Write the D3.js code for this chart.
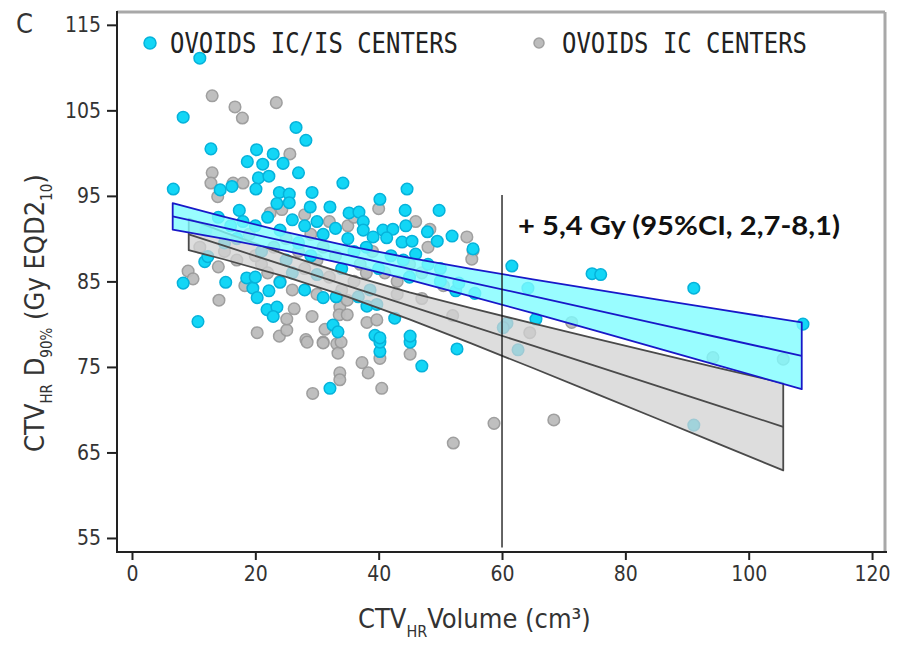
<!DOCTYPE html>
<html><head><meta charset="utf-8">
<script src="https://cdn.jsdelivr.net/npm/d3@7"></script>
<style>body{margin:0;background:#fff;}svg{display:block;}</style>
</head><body>
<svg id="chart" width="898" height="645"></svg>
<script>
// ---- data ----
const xTicks = [0, 20, 40, 60, 80, 100, 120];
const yTicks = [55, 65, 75, 85, 95, 105, 115];
const seriesNames = ["OVOIDS IC/IS CENTERS", "OVOIDS IC CENTERS"];
const annotation = "+ 5,4 Gy (95%CI, 2,7-8,1)";
const refX = 60;

// OVOIDS IC/IS CENTERS (volume cm3, D90% Gy)
const bluePoints = [
[11.0,111.1],[8.3,104.2],[12.8,100.5],[26.6,103.0],[28.2,101.5],[20.2,100.4],[18.7,99.0],[21.2,98.7],[22.9,99.9],[24.5,98.8],
[27.0,97.7],[20.5,97.1],[22.2,97.3],[20.1,95.8],[14.3,95.7],[16.2,96.1],[6.7,95.8],[23.9,95.4],[25.5,95.2],[29.2,95.4],
[34.2,96.5],[40.2,94.6],[44.6,95.8],[44.3,93.3],[49.8,93.3],[23.5,94.1],[25.5,94.2],[28.9,93.7],[32.1,93.7],[17.4,93.3],
[35.2,93.0],[36.8,93.1],[37.5,92.0],[44.4,91.5],[40.7,91.0],[42.3,91.1],[51.9,90.3],[49.5,89.7],[55.3,88.8],[43.8,89.6],
[45.4,89.7],[41.3,90.1],[39.1,90.2],[37.5,91.0],[47.9,90.8],
[61.6,86.8],[74.6,85.9],[76.0,85.8],[91.1,84.2],[108.8,80.0],[64.2,84.2],[52.5,83.9],[55.6,83.6],[65.5,80.6],[60.8,80.1],
[60.2,79.6],[62.6,77.0],[52.7,77.1],[91.1,68.2],
[40.2,76.8],[40.2,77.9],[45.1,77.9],[47.0,75.1],[32.1,72.5],[8.3,84.8],[10.7,80.3],[11.8,87.3],[12.3,87.9],[15.2,84.9],
[19.6,84.2],[22.2,83.9],[20.3,83.1],[21.9,81.7],[23.5,82.0],[22.9,80.9],[31.0,83.1],[33.1,83.2],[32.6,79.9],[33.4,79.1],
[38.1,82.1],[39.4,78.7],[40.2,78.4],[42.6,80.7],[45.1,78.6],[18.6,85.4],[20.0,85.5],[24.0,84.9],[36.7,83.2],[39.7,82.3],
[38.6,84.0],
[18.0,92.0],[20.0,91.5],[22.0,92.5],[24.0,91.0],[26.0,92.2],[28.0,91.5],[30.0,92.0],[31.0,90.5],[33.0,91.2],[35.0,90.0],
[36.0,88.5],[38.0,89.0],[42.0,88.0],[44.0,87.5],[46.0,88.2],[48.0,87.0],[50.0,86.5],[27.0,89.5],[29.0,88.0],[25.0,87.5],
[21.0,88.5],[17.0,90.0],[15.0,89.5],[34.0,86.5],[30.0,85.8],[26.0,86.0],[40.0,86.5],[45.0,85.5],[50.0,85.0],[53.0,84.8],
[28.0,84.0],[16.0,91.5],[14.0,92.5],[12.0,91.0]
];

// OVOIDS IC CENTERS
const grayPoints = [
[13.0,106.7],[16.7,105.4],[17.9,104.1],[23.4,105.9],[25.6,99.9],[13.0,97.7],[12.8,96.5],[16.4,96.5],[18.0,96.5],[13.9,94.9],
[22.4,93.0],[24.3,93.4],
[9.1,86.2],[9.9,85.3],[14.0,86.7],[14.1,82.8],[18.3,84.5],[20.3,79.0],[23.9,78.6],[25.1,79.3],[25.1,80.6],[26.3,81.8],
[28.2,78.2],[29.2,80.9],[31.0,77.9],[31.3,79.4],[33.2,77.7],[33.4,76.6],[33.7,82.0],[33.6,81.1],[34.9,81.1],[37.3,75.5],
[38.3,74.3],[33.7,74.3],[33.7,73.5],[29.3,71.9],[40.5,72.5],[40.2,76.0],[45.1,76.5],[38.1,80.2],[39.7,80.5],[34.9,82.8],
[28.4,77.9],[31.0,77.8],[33.9,77.9],
[48.3,91.1],[54.3,90.2],[55.3,88.6],[55.1,87.6],[64.5,79.0],[71.3,80.2],[94.2,76.1],[105.6,75.9],[58.7,68.4],[68.4,68.8],
[52.1,66.1],[50.5,84.5],[47.0,83.0],[43.0,83.5],[52.0,81.0],
[19.0,90.5],[21.0,87.0],[23.0,89.0],[25.0,90.0],[27.0,88.5],[29.0,90.5],[31.0,89.0],[33.0,88.0],[35.0,91.5],[37.0,87.0],
[39.0,88.5],[41.0,86.0],[43.0,85.0],[45.0,87.0],[47.0,86.0],[22.0,86.0],[24.0,85.0],[26.0,84.0],[28.0,86.5],[30.0,87.5],
[32.0,85.5],[36.0,85.0],[38.0,86.0],[20.0,88.0],[17.0,87.5],[15.0,88.5],[11.0,89.0],[30.0,83.5],[34.0,84.0],[32.0,92.0],
[36.0,92.5],[28.0,92.8],[40.0,93.5],[46.0,92.0],[48.0,89.0]
];

// regression fits with 95% CI: [x, lower, fit, upper]
const blueFit = [
[6.6, 91.05, 92.60, 94.15],[15, 89.97, 91.26, 92.55],[25, 88.56, 89.66, 90.76],[35, 86.96, 88.06, 89.16],
[45, 85.17, 86.46, 87.76],[55, 83.26, 84.87, 86.47],[65, 81.28, 83.27, 85.25],[75, 79.27, 81.67, 84.07],
[85, 77.24, 80.07, 82.90],[95, 75.19, 78.47, 81.75],[108.6, 72.40, 76.30, 80.20]
];
const grayFit = [
[9.2, 88.65, 90.50, 92.35],[15, 87.56, 89.15, 90.74],[25, 85.52, 86.81, 88.11],[35, 83.19, 84.48, 85.78],
[45, 80.55, 82.14, 83.73],[55, 77.75, 79.81, 81.87],[65, 74.87, 77.48, 80.09],[75, 71.94, 75.14, 78.34],
[85, 69.00, 72.81, 76.62],[95, 66.04, 70.47, 74.90],[105.6, 62.90, 68.00, 73.10]
];

// ---- drawing ----
const svg = d3.select("#chart");
const L = 117, R = 885, T = 12, B = 552;
const x = d3.scaleLinear().domain([-2.43, 122.1]).range([L, R]);
const y = d3.scaleLinear().domain([53.36, 116.5]).range([B, T]);

// frame (top & right gray)
svg.append("line").attr("x1", L).attr("x2", R).attr("y1", T).attr("y2", T)
  .attr("stroke", "#a8a8a8").attr("stroke-width", 3);
svg.append("line").attr("x1", R).attr("x2", R).attr("y1", T).attr("y2", B)
  .attr("stroke", "#a8a8a8").attr("stroke-width", 3);

// points
const g = svg.append("g");
g.selectAll("circle.gray").data(grayPoints).enter().append("circle")
  .attr("cx", d => x(d[0])).attr("cy", d => y(d[1])).attr("r", 5.8)
  .attr("fill", "#bcbcbc").attr("stroke", "#9a9a9a").attr("stroke-width", 1.5).attr("opacity", 0.95);
g.selectAll("circle.blue").data(bluePoints).enter().append("circle")
  .attr("cx", d => x(d[0])).attr("cy", d => y(d[1])).attr("r", 5.8)
  .attr("fill", "#12d6f6").attr("stroke", "#06b2da").attr("stroke-width", 1.5);

// bands
function band(fit, fill, stroke, op) {
  const area = d3.area().x(d => x(d[0])).y0(d => y(d[1])).y1(d => y(d[3]));
  svg.append("path").datum(fit).attr("d", area)
    .attr("fill", fill).attr("fill-opacity", op).attr("stroke", stroke).attr("stroke-width", 1.8)
    .attr("stroke-linejoin", "round");
  const line = d3.line().x(d => x(d[0])).y(d => y(d[2]));
  svg.append("path").datum(fit).attr("d", line)
    .attr("fill", "none").attr("stroke", stroke).attr("stroke-width", 1.8);
}
band(grayFit, "#d2d2d2", "#4a4a4a", 0.75);
band(blueFit, "#7ffcff", "#1818c8", 0.8);

// reference line
svg.append("line").attr("x1", x(refX)).attr("x2", x(refX)).attr("y1", y(95.1)).attr("y2", y(53.9))
  .attr("stroke", "#111").attr("stroke-width", 1.3);

// axes
const yAxis = svg.append("g").attr("transform", `translate(${L},0)`)
  .call(d3.axisLeft(y).tickValues(yTicks).tickSize(10).tickPadding(6).tickSizeOuter(0));
const xAxis = svg.append("g").attr("transform", `translate(0,${B})`)
  .call(d3.axisBottom(x).tickValues(xTicks).tickSize(8).tickPadding(6).tickSizeOuter(0));
[yAxis, xAxis].forEach(a => {
  a.select(".domain").remove();
  a.selectAll(".tick line").attr("stroke", "#222").attr("stroke-width", 2);
  a.selectAll(".tick text").attr("font-family", "DejaVu Sans Condensed").attr("font-size", 21).attr("fill", "#333");
});
svg.append("line").attr("x1", L).attr("x2", L).attr("y1", T - 1).attr("y2", B + 1).attr("stroke", "#222").attr("stroke-width", 2);
svg.append("line").attr("x1", L - 1).attr("x2", R + 2).attr("y1", B).attr("y2", B).attr("stroke", "#222").attr("stroke-width", 2);

// panel letter
svg.append("text").attr("x", 16).attr("y", 33).text("C")
  .attr("font-family", "DejaVu Sans Condensed").attr("font-size", 27).attr("fill", "#333");

// legend
const legend = [
  {name: seriesNames[0], cx: 150, tx: 170, w: 288, fill: "#12d6f6", stroke: "#06b2da", r: 6},
  {name: seriesNames[1], cx: 539, tx: 562, w: 245, fill: "#bcbcbc", stroke: "#a0a0a0", r: 5}
];
legend.forEach(l => {
  svg.append("circle").attr("cx", l.cx).attr("cy", 43).attr("r", l.r).attr("fill", l.fill).attr("stroke", l.stroke).attr("stroke-width", 1.5);
  svg.append("text").attr("x", l.tx).attr("y", 53).text(l.name)
    .attr("font-family", "DejaVu Sans Mono").attr("font-size", 28).attr("fill", "#222")
    .attr("textLength", l.w).attr("lengthAdjust", "spacingAndGlyphs");
});

// annotation
svg.append("text").attr("x", 518).attr("y", 235).text(annotation)
  .attr("font-family", "Lato").attr("font-weight", "bold").attr("font-size", 27).attr("fill", "#111")
  .attr("textLength", 322).attr("lengthAdjust", "spacingAndGlyphs");

// x axis title
const xt = svg.append("text").attr("x", 358).attr("y", 628)
  .attr("font-family", "DejaVu Sans Condensed").attr("font-size", 27).attr("fill", "#333");
xt.append("tspan").text("CTV");
xt.append("tspan").text("HR").attr("font-size", 16).attr("dy", 9);
xt.append("tspan").text("Volume (cm³)").attr("dy", -9);

// y axis title
const yt = svg.append("text").attr("transform", "translate(44,452) rotate(-90)")
  .attr("font-family", "DejaVu Sans Condensed").attr("font-size", 27).attr("fill", "#333");
yt.append("tspan").text("CTV");
yt.append("tspan").text("HR").attr("font-size", 15).attr("dy", 8);
yt.append("tspan").text(" D").attr("dy", -8);
yt.append("tspan").text("90%").attr("font-size", 15).attr("dy", 8);
yt.append("tspan").text(" (Gy EQD2").attr("dy", -8);
yt.append("tspan").text("10").attr("font-size", 15).attr("dy", 8);
yt.append("tspan").text(")").attr("dy", -8);
</script>
</body></html>
